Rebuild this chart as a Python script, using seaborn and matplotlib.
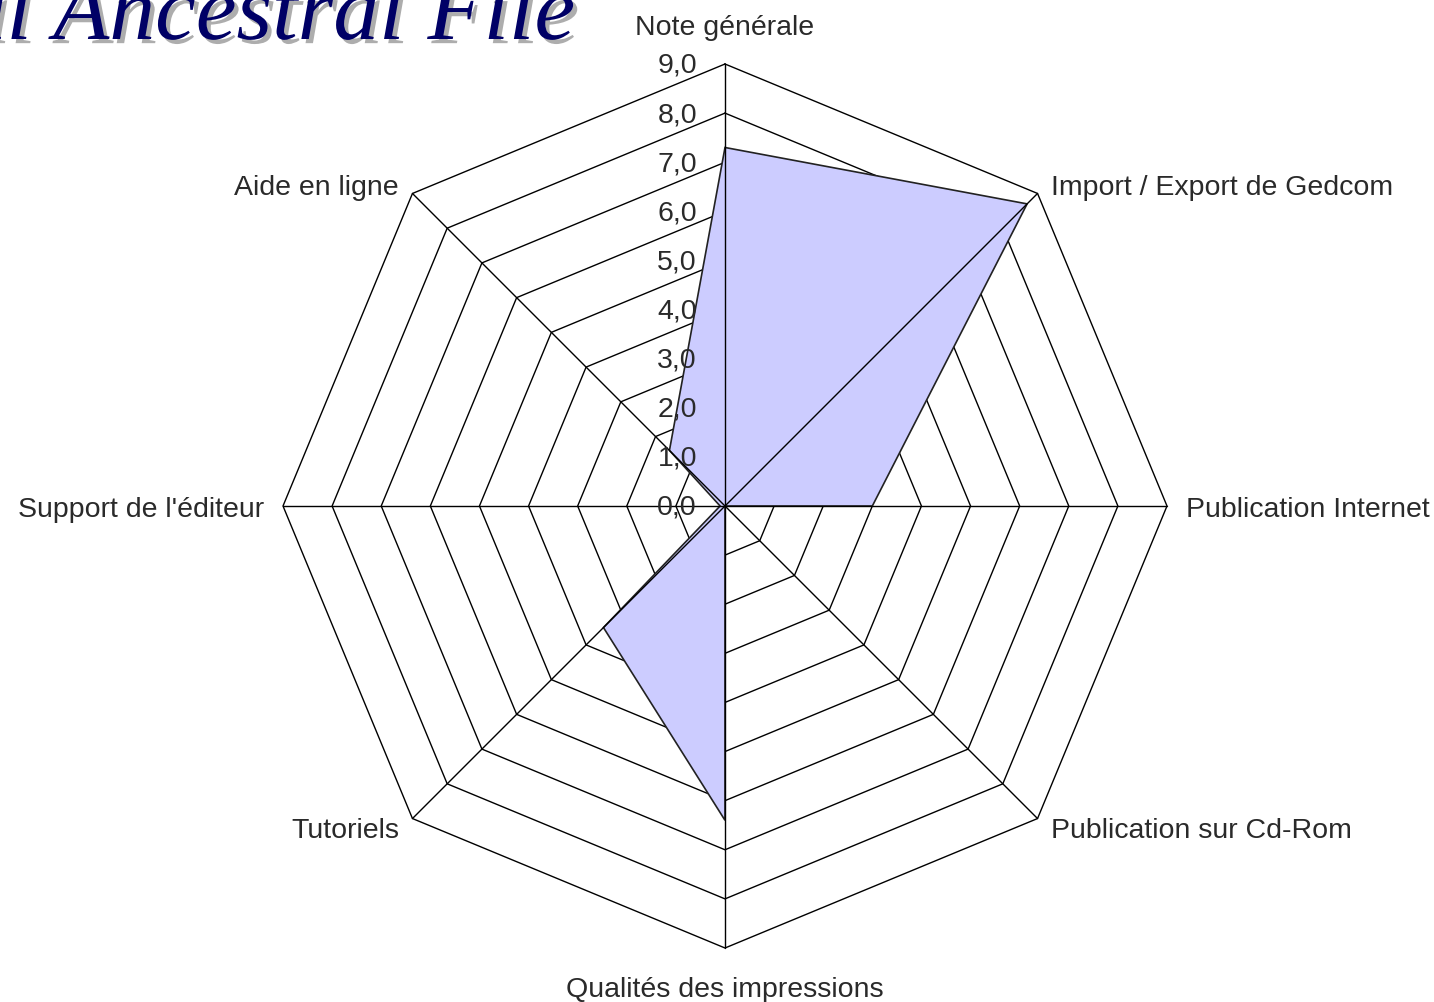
import numpy as np
import matplotlib
matplotlib.use("Agg")
import matplotlib.pyplot as plt
import matplotlib.patheffects as pe
import seaborn as sns

categories = ["Note générale", "Import / Export de Gedcom", "Publication Internet",
              "Publication sur Cd-Rom", "Qualités des impressions", "Tutoriels",
              "Support de l'éditeur", "Aide en ligne"]
values = [7.3, 8.7, 3.0, 0.0, 6.4, 3.5, 0.1, 1.6]
ring_levels = [1, 2, 3, 4, 5, 6, 7, 8, 9]
tick_labels = ["0,0", "1,0", "2,0", "3,0", "4,0", "5,0", "6,0", "7,0", "8,0", "9,0"]
title_text = "Personal Ancestral File"

sns.set_theme(style="white")
plt.rcParams['font.family'] = ['Liberation Sans', 'DejaVu Sans']

W, H, DPI = 1434, 1003, 100
fig = plt.figure(figsize=(W / DPI, H / DPI), dpi=DPI)
ax = fig.add_axes([0, 0, 1, 1])
ax.set_axis_off()

# scale: pixels per unit, center position in pixels
cx, cy = 725, 507
s = 442 / 9.0
ax.set_xlim(-cx / s, (W - cx) / s)
ax.set_ylim(-(H - cy) / s, cy / s)

n = len(categories)
ang = np.deg2rad(90 - 360.0 / n * np.arange(n))
cosA, sinA = np.cos(ang), np.sin(ang)

# rings
for lv in ring_levels:
    xs = np.append(lv * cosA, lv * cosA[0])
    ys = np.append(lv * sinA, lv * sinA[0])
    ax.plot(xs, ys, color="black", lw=1.0, zorder=1)

# data polygon
v = np.array(values)
ax.fill(v * cosA, v * sinA, facecolor="#ccccff", edgecolor="#222222", lw=1.2, zorder=2)

# spokes
rmax = ring_levels[-1]
for k in range(n):
    ax.plot([0, rmax * cosA[k]], [0, rmax * sinA[k]], color="black", lw=1.0, zorder=3)

# tick labels along the top axis
for i, t in enumerate(tick_labels):
    ax.text(-28 / s, i - 1 / s, t, ha="right", va="center", fontsize=20.5, color="#2a2a2a", zorder=4)

# category labels
Rl = 461 / s
Rv = 481 / s
for k, lab in enumerate(categories):
    c, sn = cosA[k], sinA[k]
    if abs(c) < 1e-6:
        ax.text(0, Rv * np.sign(sn) - 2 / s, lab, ha="center", va="center", fontsize=20.5, color="#2a2a2a")
    else:
        ha = "left" if c > 0 else "right"
        if abs(sn) < 1e-6:
            dy = -3 / s
        elif sn > 0:
            dy = -7 / s
        else:
            dy = 2 / s
        ax.text(Rl * c, Rl * sn + dy, lab, ha=ha, va="center", fontsize=20.5, color="#2a2a2a")

# cut-off script title at top-left
tt = fig.text(575 / W, 1 - 40 / H, title_text, ha="right", va="baseline",
              fontsize=66, style="italic", family="Liberation Serif", color="#000066")
tt.set_path_effects([pe.SimplePatchShadow(offset=(3, -3), shadow_rgbFace="#999999", alpha=0.8),
                     pe.Normal()])

fig.savefig("out.png", dpi=DPI, facecolor="white")
